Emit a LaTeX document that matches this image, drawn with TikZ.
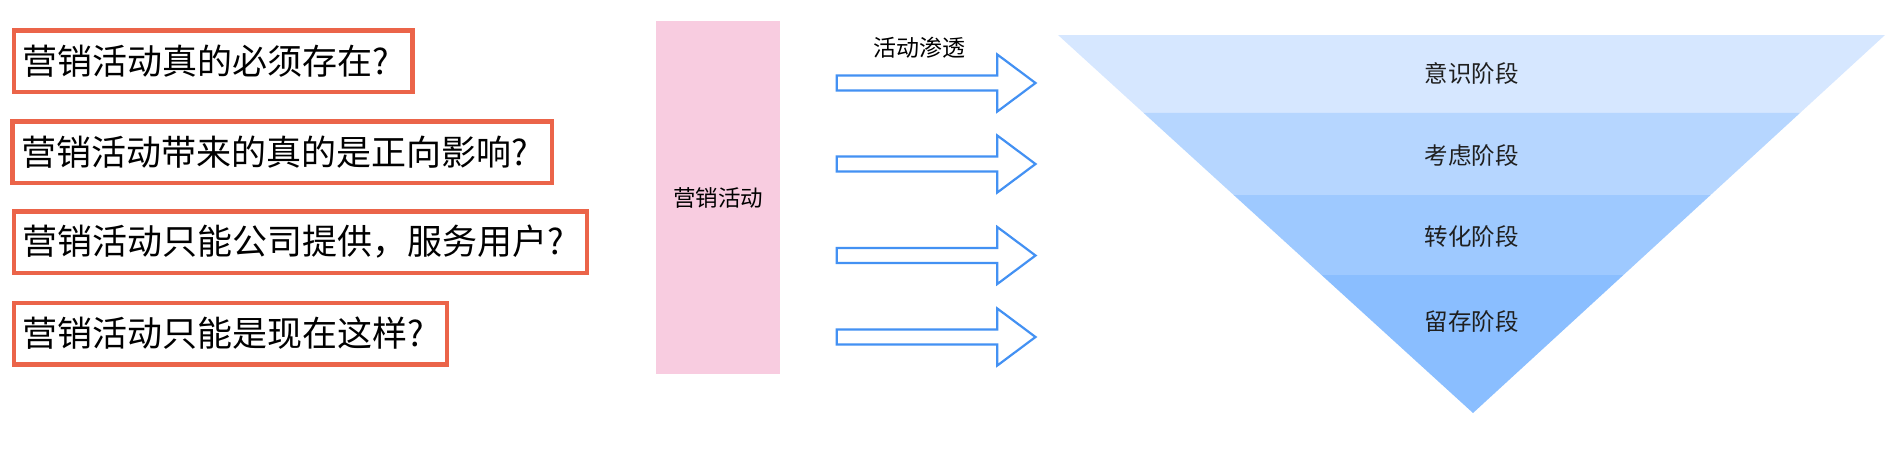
\documentclass[tikz,border=0pt]{standalone}
\usepackage{fontspec}
\setmainfont{Noto Sans CJK SC}
\usetikzlibrary{calc}
\definecolor{qred}{HTML}{EB6449}
\definecolor{pinkbar}{HTML}{F8CCE0}
\definecolor{arrowblue}{HTML}{4391F3}
\definecolor{band1}{HTML}{D6E7FF}
\definecolor{band2}{HTML}{B6D6FF}
\definecolor{band3}{HTML}{9EC9FF}
\definecolor{band4}{HTML}{8ABEFF}
\begin{document}
\begin{tikzpicture}[x=1pt,y=-1pt,
  qbox/.style={draw=qred, line width=4.5pt, minimum height=61.5pt, inner xsep=9.25pt,
    inner ysep=0pt, align=left, font=\fontsize{35}{40}\selectfont},
  arrowline/.style={draw=arrowblue, line width=2.2pt, fill=white},
  stagelabel/.style={font=\fontsize{23.5}{28}\selectfont, text=black!88, inner sep=0pt},
  midlabel/.style={font=\fontsize{23}{28}\selectfont, inner sep=0pt}]
\useasboundingbox (0,0) rectangle (1900,456);

% question boxes
\node[qbox, text width=380pt]   (q1) at (213,61)      {营销活动真的必须存在?};
\node[qbox, text width=521pt]   (q2) at (282,152)     {营销活动带来的真的是正向影响?};
\node[qbox, text width=554.5pt] (q3) at (300.25,242)  {营销活动只能公司提供，服务用户?};
\node[qbox, text width=414.5pt] (q4) at (230.25,333.5){营销活动只能是现在这样?};

% pink bar
\node[fill=pinkbar, minimum width=124pt, minimum height=353pt, inner sep=0pt,
      font=\fontsize{22.5}{27}\selectfont] (mkt) at (718,197.5) {营销活动};

% arrows
\foreach \yy in {83,164,255.5,337} {
  \draw[arrowline] (836.8,\yy-7.5) -- (997.3,\yy-7.5) -- (997.3,\yy-28.5)
     -- (1035.5,\yy) -- (997.3,\yy+28.5) -- (997.3,\yy+7.5) -- (836.8,\yy+7.5) -- cycle;
}
\node[midlabel] (pen) at (919,47.5) {活动渗透};

% funnel
\coordinate (A) at (1058,35);
\coordinate (B) at (1885,35);
\coordinate (T) at (1473,413);
\coordinate (L1) at ($(A)!0.2063!(T)$);
\coordinate (R1) at ($(B)!0.2063!(T)$);
\coordinate (L2) at ($(A)!0.4233!(T)$);
\coordinate (R2) at ($(B)!0.4233!(T)$);
\coordinate (L3) at ($(A)!0.6349!(T)$);
\coordinate (R3) at ($(B)!0.6349!(T)$);
\fill[band1] (A) -- (B) -- (R1) -- (L1) -- cycle;
\fill[band2] (L1) -- (R1) -- (R2) -- (L2) -- cycle;
\fill[band3] (L2) -- (R2) -- (R3) -- (L3) -- cycle;
\fill[band4] (L3) -- (R3) -- (T) -- cycle;

\node[stagelabel] (s1) at (1471.5,74)  {意识阶段};
\node[stagelabel] (s2) at (1471.5,156) {考虑阶段};
\node[stagelabel] (s3) at (1471.5,237) {转化阶段};
\node[stagelabel] (s4) at (1471.5,322) {留存阶段};
\end{tikzpicture}
\end{document}
